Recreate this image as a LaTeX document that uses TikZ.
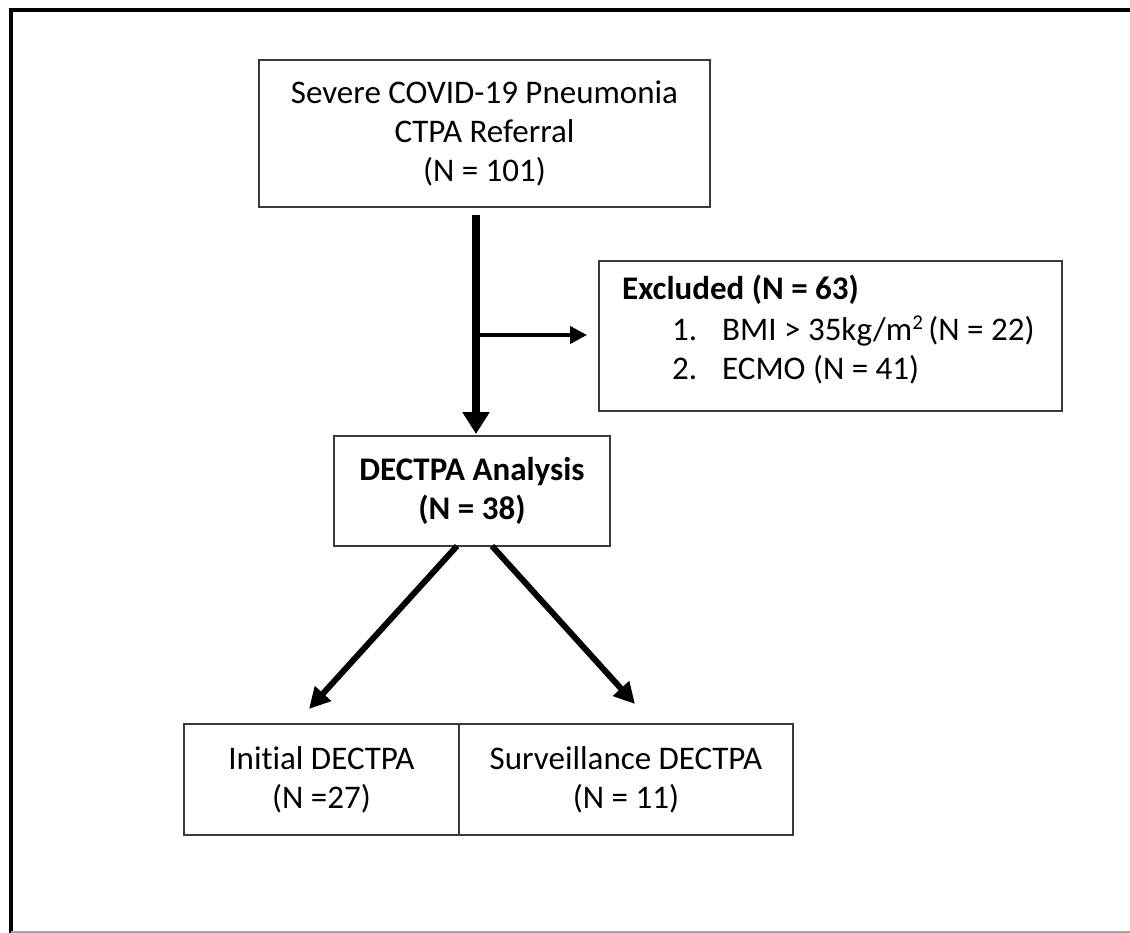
\documentclass[tikz,border=0pt]{standalone}
\usepackage{fontspec}
\setmainfont[Ligatures=NoCommon]{Carlito}
\usetikzlibrary{arrows.meta}
\definecolor{boxline}{HTML}{3A3A3A}
\tikzset{
  box/.style={draw=boxline, line width=2pt, rectangle, inner sep=0pt, align=center,
    font=\fontsize{33}{39}\selectfont},
  txt/.style={inner sep=0pt, font=\fontsize{33}{39}\selectfont},
  mainarrow/.style={line width=8pt, -{Triangle[length=22pt,width=26pt]}},
  sidearrow/.style={line width=4pt, -{Triangle[length=17pt,width=17pt]}},
  diagarrow/.style={line width=6pt, -{Triangle[length=21pt,width=21pt]}},
}
\begin{document}
\begin{tikzpicture}[x=1pt,y=-1pt]
\useasboundingbox (0,0) rectangle (1130,933);
% outer frame
\draw[line width=4.5pt] (11,935) -- (11,10) -- (1135,10);
\draw[line width=2pt, gray!70] (11,932) -- (1135,932);

% boxes
\node[box, minimum width=451pt, minimum height=147pt] (top) at (484.5,133.5)
  {Severe COVID-19 Pneumonia\\CTPA Referral\\(N = 101)};
\node[box, minimum width=463pt, minimum height=150pt, anchor=north west] (excl) at (598,260) {};
\node[txt, anchor=base west] (exclA) at (622,300) {\bfseries Excluded (N = 63)};
\node[txt, anchor=base west] (exclB) at (672,341) {\makebox[50pt][l]{1.}BMI > 35kg/m\raisebox{11pt}{\fontsize{21}{21}\selectfont 2}\,(N = 22)};
\node[txt, anchor=base west] (exclC) at (672,379) {\makebox[50pt][l]{2.}ECMO (N = 41)};
\node[box, minimum width=276pt, minimum height=110pt] (dect) at (472,491)
  {\bfseries DECTPA Analysis\\\bfseries (N = 38)};
\node[box, minimum width=275pt, minimum height=111pt] (init) at (321.5,779.5)
  {Initial DECTPA\\(N =27)};
\node[box, minimum width=334pt, minimum height=111pt] (surv) at (626,779.5)
  {Surveillance DECTPA\\(N = 11)};

% connectors
\coordinate (vstart) at (476,215);
\coordinate (branch) at (476,335);
\coordinate (vend) at (476,434);
\coordinate (hend) at (587,335);
\draw[mainarrow] (vstart) -- (vend);
\draw[sidearrow] (branch) -- (hend);
\coordinate (dl) at (457,546);
\coordinate (dr) at (492,546);
\coordinate (tl) at (309,709);
\coordinate (tr) at (635,704);
\draw[diagarrow] (dl) -- (tl);
\draw[diagarrow] (dr) -- (tr);
\end{tikzpicture}
\end{document}
